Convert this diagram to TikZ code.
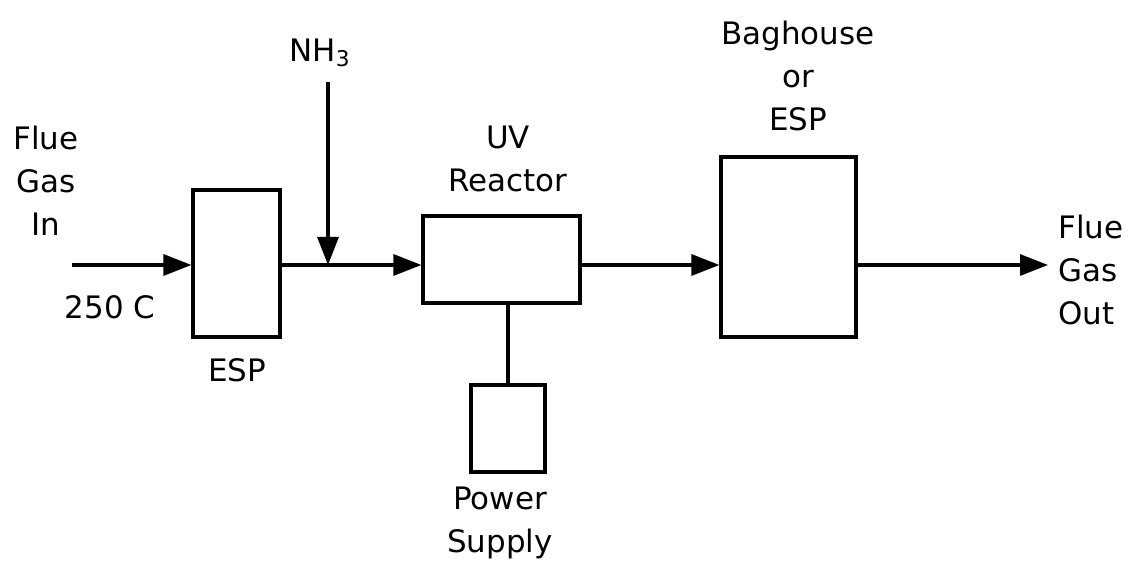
\documentclass[tikz,border=0pt]{standalone}
\usepackage{fontspec}
\setmainfont{DejaVu Sans}
\usepackage{tikz}
\usetikzlibrary{arrows.meta,positioning,calc}

\tikzset{
  unit/.style={draw, line width=1.8pt, minimum width=#1},
  label txt/.style={font=\fontsize{17.6}{24.4}\selectfont, align=center, inner sep=0pt},
  flow/.style={line width=1.8pt, -{Triangle[length=5.6mm, width=4.2mm]}},
}

\begin{document}
\begin{tikzpicture}[>=Stealth]
  \useasboundingbox (0,0) rectangle (22.74,11.32);

  % Process units
  \node[unit=1.74cm, minimum height=2.94cm] (esp) at (4.73, 6.05) {};
  \node[unit=3.14cm, minimum height=1.74cm] (uv) at (10.03, 6.13) {};
  \node[unit=2.70cm, minimum height=3.60cm] (bag) at (15.77, 6.38) {};
  \node[unit=1.48cm, minimum height=1.74cm] (power) at (10.16, 2.75) {};

  % Free ends of the gas line
  \coordinate (in) at (1.44, 6.02);
  \coordinate (out) at (20.96, 6.02);
  \coordinate (nh3top) at (6.56, 9.68);
  \coordinate (nh3tip) at (6.56, 6.02);

  % Labels
  \node[label txt] (fluein) at (0.92, 7.70) {Flue\\Gas\\In};
  \node[label txt] (temp) at (2.20, 5.18) {250 C};
  \node[label txt] (esplbl) at (4.74, 3.92) {ESP};
  \node[label txt] (nh3) at (6.40, 10.26) {NH\textsubscript{3}};
  \node[label txt] (uvlbl) at (10.16, 8.14) {UV\\Reactor};
  \node[label txt] (baglbl) at (15.96, 9.80) {Baghouse\\or\\ESP};
  \node[label txt, align=left, anchor=west] (flueout) at (21.16, 5.92) {Flue\\Gas\\Out};
  \node[label txt] (powerlbl) at (10.00, 0.86) {Power\\Supply};

  % Gas flow
  \draw[flow] (in) -- (in -| esp.west);
  \draw[flow] (in -| esp.east) -- (in -| uv.west);
  \draw[flow] (in -| uv.east) -- (in -| bag.west);
  \draw[flow] (in -| bag.east) -- (out);
  \draw[flow] (nh3top) -- (nh3tip);
  \draw[line width=1.8pt] (power.north) -- (power.north |- uv.south);
\end{tikzpicture}
\end{document}
